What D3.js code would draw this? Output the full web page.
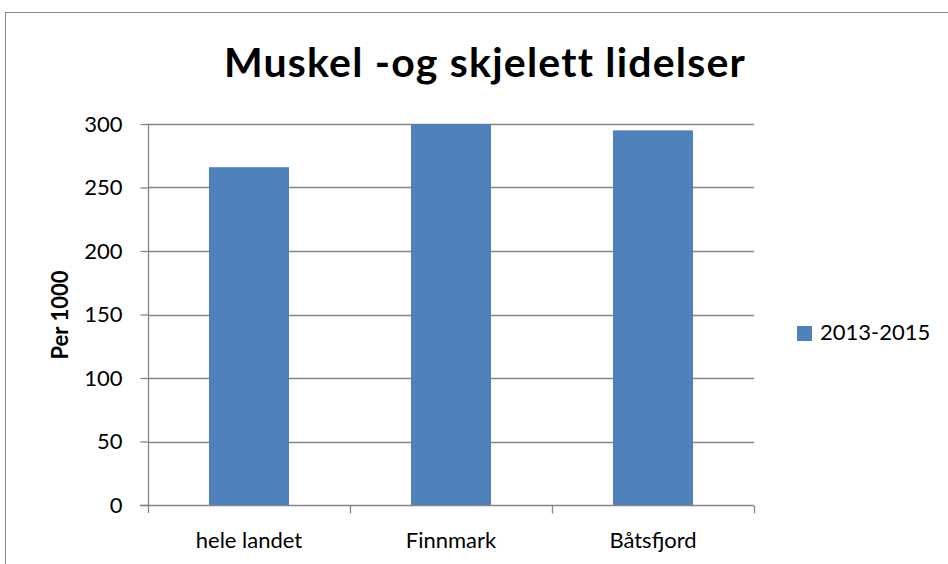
<!DOCTYPE html>
<meta charset="utf-8">
<script src="https://d3js.org/d3.v7.min.js"></script>
<style>
  body { margin: 0; background: #fff; }
  text { font-family: Lato, "Open Sans", sans-serif; fill: #000; }
</style>
<div id="d3chart"></div>
<script>
    // chart data
    var categories = ["hele landet", "Finnmark", "Båtsfjord"];
    var values = [266, 300, 295];
    var seriesName = "2013-2015";
    var yTicks = [0, 50, 100, 150, 200, 250, 300];
    var title = "Muskel -og skjelett lidelser";
    var yLabel = "Per 1000";

    var W = 948, H = 564;
    var margin = {top: 124, left: 148, right: 194, bottom: 59};
    var width = W - margin.left - margin.right,
        height = H - margin.top - margin.bottom;

    var svg = d3.select("#d3chart")
        .append("svg")
        .attr("width", W)
        .attr("height", H);

    // outer chart border
    svg.append("rect")
        .attr("x", 5.5).attr("y", 12.5)
        .attr("width", W).attr("height", H)
        .attr("fill", "none")
        .attr("stroke", "#868686");

    var g = svg.append("g")
        .attr("transform", "translate(" + margin.left + "," + margin.top + ")");

    var x = d3.scaleBand()
        .domain(categories)
        .range([0, width])
        .paddingInner(0.604)
        .paddingOuter(0.302);

    var y = d3.scaleLinear()
        .domain([0, 300])
        .range([height, 0]);

    // gridlines
    g.append("g")
        .selectAll("line")
        .data(yTicks.slice(1))
        .enter()
        .append("line")
        .attr("x1", 0).attr("x2", width)
        .attr("y1", function(d) { return Math.round(y(d)) + 0.5; })
        .attr("y2", function(d) { return Math.round(y(d)) + 0.5; })
        .attr("stroke", "#868686")
        .attr("stroke-width", 1.3);

    // bars
    g.append("g")
        .selectAll("rect")
        .data(values)
        .enter()
        .append("rect")
        .attr("x", function(d, i) { return x(categories[i]); })
        .attr("y", function(d) { return y(d); })
        .attr("width", x.bandwidth())
        .attr("height", function(d) { return height - y(d); })
        .attr("fill", "#4F81BD");

    // Y axis
    var yAxis = g.append("g")
        .attr("transform", "translate(0.5,0)")
        .call(d3.axisLeft(y).tickValues(yTicks).tickSize(8).tickPadding(18));
    yAxis.selectAll("line, path").attr("stroke", "#868686").attr("stroke-width", 1.3);
    yAxis.select(".domain").attr("d", "M0," + y(300) + "V" + (height + 8));
    yAxis.selectAll("text")
        .style("font-family", "Lato, sans-serif")
        .style("font-size", "22px");

    // X axis with ticks between categories
    var step = width / categories.length;
    var xAxis = g.append("g")
        .attr("transform", "translate(0," + (Math.round(height) + 0.5) + ")");
    xAxis.append("line")
        .attr("x1", -8).attr("x2", width)
        .attr("stroke", "#868686")
        .attr("stroke-width", 1.3);
    xAxis.selectAll(".tk")
        .data(d3.range(1, categories.length + 1))
        .enter()
        .append("line")
        .attr("x1", function(d) { return Math.round(d * step) + 0.5; })
        .attr("x2", function(d) { return Math.round(d * step) + 0.5; })
        .attr("y1", 0).attr("y2", 8)
        .attr("stroke", "#868686")
        .attr("stroke-width", 1.3);
    xAxis.selectAll(".lbl")
        .data(categories)
        .enter()
        .append("text")
        .attr("x", function(d) { return x(d) + x.bandwidth() / 2; })
        .attr("y", 42)
        .attr("text-anchor", "middle")
        .style("font-size", "22px")
        .text(function(d) { return d; });

    // title
    svg.append("text")
        .attr("x", 485)
        .attr("y", 77)
        .attr("text-anchor", "middle")
        .style("font-size", "41px")
        .style("font-weight", "bold")
        .style("letter-spacing", "1.2px")
        .text(title);

    // Y axis label
    svg.append("text")
        .attr("transform", "translate(68,315) rotate(-90)")
        .attr("text-anchor", "middle")
        .style("font-size", "22px")
        .style("font-weight", "bold")
        .text(yLabel);

    // legend
    var legend = svg.append("g").attr("transform", "translate(797,326)");
    legend.append("rect")
        .attr("width", 15).attr("height", 15)
        .attr("fill", "#4F81BD");
    legend.append("text")
        .attr("x", 23).attr("y", 14)
        .style("font-size", "22px")
        .text(seriesName);
</script>
